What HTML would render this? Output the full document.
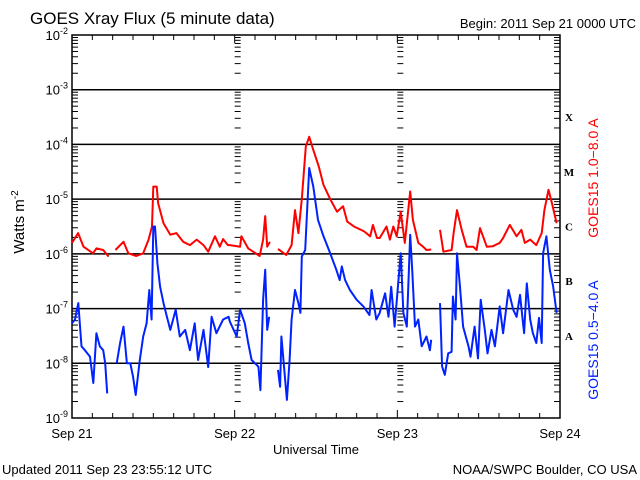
<!DOCTYPE html>
<html><head><meta charset="utf-8"><style>
body{margin:0;background:#fff;}
svg{display:block;font-family:"Liberation Sans",sans-serif;}
</style></head><body>
<svg id="c" width="640" height="480" viewBox="0 0 640 480">
<text x="30" y="24" font-size="17">GOES Xray Flux (5 minute data)</text>
<text x="636" y="28" font-size="13" text-anchor="end">Begin:  2011 Sep 21 0000 UTC</text>
<text x="2" y="474" font-size="13">Updated 2011 Sep 23 23:55:12 UTC</text>
<text x="637" y="474" font-size="13" text-anchor="end">NOAA/SWPC Boulder, CO USA</text>
<text x="316" y="454" font-size="13" text-anchor="middle">Universal Time</text>
<text transform="translate(24,222) rotate(-90)" font-size="15" text-anchor="middle">Watts m<tspan dy="-6" font-size="10">-2</tspan></text>
<text transform="translate(598,178) rotate(-90)" font-size="14" fill="#ff0000" text-anchor="middle">GOES15 1.0−8.0 A</text>
<text transform="translate(598,340) rotate(-90)" font-size="14" fill="#0022ff" text-anchor="middle">GOES15 0.5−4.0 A</text>
<g id="axes"></g>
<g id="series"></g>
</svg>
<script>
const tickDecades = [-2,-3,-4,-5,-6,-7,-8,-9];
const dayLabels = ["Sep 21","Sep 22","Sep 23","Sep 24"];
const classLetters = ["X","M","C","B","A"];
const classLogs = [-3.5,-4.5,-5.5,-6.5,-7.5];
const redHours = [0,0.9,1.7,3.1,3.6,4.6,5.4,null,6.4,7.6,8.3,9.5,10.5,11.3,11.8,12.0,12.5,12.7,13.5,14.5,15.4,16.4,17.4,18.4,19.4,20.1,21.1,21.8,22.3,23.0,
23.3,24.8,25.0,26.0,27.7,28.2,28.5,28.8,29.2,null,30.4,31.6,32.4,32.9,33.4,33.9,34.5,35.0,35.6,36.4,37.1,38.1,39.1,40.0,40.6,41.6,43.1,44.0,44.4,45.0,
45.4,46.4,46.9,47.4,47.9,48.5,49.1,49.9,50.3,51.1,51.8,52.3,53.0,null,54.3,54.8,56.0,56.3,56.8,57.5,58.2,59.2,59.7,60.2,61.2,62.1,63.1,63.6,64.6,65.6,66.3,66.8,67.6,68.5,69.3,69.7,70.3,70.8,71.5];
const redLog = [-5.8,-5.62,-5.87,-5.99,-5.9,-5.93,-6.05,null,-5.93,-5.78,-5.99,-6.04,-5.99,-5.74,-5.5,-4.77,-4.77,-5.07,-5.44,-5.65,-5.62,-5.78,-5.84,-5.74,-5.84,-5.96,-5.68,-5.87,-5.73,-5.84,
-5.84,-5.87,-5.68,-5.9,-6.04,-5.74,-5.31,-5.87,-5.78,null,-5.91,-6.02,-5.84,-5.2,-5.62,-5.0,-4.04,-3.86,-4.1,-4.4,-4.74,-5.0,-5.23,-5.13,-5.41,-5.5,-5.59,-5.68,-5.47,-5.71,
-5.71,-5.5,-5.74,-5.5,-5.68,-5.23,-5.8,-4.86,-5.38,-5.8,-5.87,-5.93,-5.92,null,-5.56,-5.96,-5.93,-5.62,-5.2,-5.56,-5.87,-5.87,-5.93,-5.53,-5.87,-5.86,-5.8,-5.71,-5.47,-5.68,-5.56,-5.8,-5.74,-5.84,-5.62,-5.2,-4.83,-5.07,-5.44];
const blueHours = [0,0.44,0.93,1.4,1.9,2.65,3.15,3.6,4.1,4.6,4.9,5.2,null,6.6,7.1,7.6,8.1,8.6,9.0,9.4,10.0,10.5,11.0,11.4,11.75,12.0,12.25,12.6,13.0,13.5,14.0,14.5,15.3,15.9,16.7,17.4,18.1,18.6,19.4,20.1,20.6,21.3,22.3,23.1,
23.3,24.3,24.8,25.5,26.0,26.5,27.0,27.5,27.8,28.2,28.5,28.8,29.1,null,30.4,30.7,30.9,31.7,32.1,32.4,32.9,33.4,33.7,33.9,34.4,34.6,35.0,35.6,36.3,37.1,38.1,39.0,39.5,39.8,40.3,41.0,42.0,43.0,43.9,44.2,44.9,
45.4,46.2,46.7,47.1,47.6,48.5,48.9,49.4,49.9,50.2,50.6,51.1,51.6,52.3,52.8,53.0,null,54.3,54.6,55.0,55.5,56.0,56.2,56.6,56.8,57.2,57.7,58.5,58.8,59.4,59.9,60.3,60.9,61.3,61.9,62.4,63.1,63.6,64.4,65.1,65.6,66.1,66.7,67.1,67.6,68.0,68.5,68.9,69.3,69.5,70.0,70.5,71.0,71.5];
const blueLog = [-7.27,-7.2,-6.9,-7.69,-7.76,-7.88,-8.36,-7.45,-7.69,-7.76,-8.0,-8.55,null,-8.0,-7.63,-7.33,-8.0,-8.0,-8.24,-8.58,-7.94,-7.51,-7.27,-6.66,-7.2,-5.5,-5.5,-6.17,-6.6,-6.9,-7.15,-7.39,-7.02,-7.51,-7.39,-7.76,-7.27,-7.94,-7.39,-8.07,-7.15,-7.45,-7.2,-7.15,
-7.24,-7.51,-7.02,-7.27,-7.63,-7.94,-8.0,-8.06,-8.49,-6.84,-6.29,-7.39,-7.15,null,-8.12,-8.43,-7.51,-8.67,-7.94,-7.2,-6.66,-6.9,-7.08,-6.05,-5.93,-5.44,-4.43,-4.77,-5.38,-5.68,-5.99,-6.29,-6.48,-6.23,-6.48,-6.66,-6.84,-6.96,-7.12,-6.66,-7.2,
-7.08,-6.72,-7.15,-6.6,-7.33,-5.99,-7.08,-7.33,-5.65,-6.29,-7.33,-7.2,-7.69,-7.51,-7.76,-7.57,null,-6.9,-8.06,-8.21,-7.82,-7.79,-6.78,-7.2,-5.99,-6.54,-7.33,-7.69,-7.88,-7.33,-7.91,-6.84,-7.39,-7.82,-7.39,-7.69,-6.96,-7.45,-6.66,-7.02,-7.15,-6.75,-7.45,-6.54,-7.2,-7.45,-7.63,-7.17,-7.63,-5.99,-5.68,-6.29,-6.6,-7.08];

const L=72,R=560,T=35,B=418;
const xs = h => L + h*(R-L)/72;
const ys = lg => T + (-2-lg)*(B-T)/7;
const NS="http://www.w3.org/2000/svg";
function mk(tag, attrs, parent){const e=document.createElementNS(NS,tag);for(const k in attrs)e.setAttribute(k,attrs[k]);parent.appendChild(e);return e;}
const ax=document.getElementById('axes');
mk('rect',{x:L,y:T,width:R-L,height:B-T,fill:'none',stroke:'#000','stroke-width':1.5},ax);
tickDecades.forEach((d,i)=>{
  const y=ys(d);
  if(d<-2&&d>-9){const g=mk('line',{x1:L,x2:R,y1:y,y2:y,stroke:'#000','stroke-width':1.5},ax);
    
    }
  const t=mk('text',{x:L-4,y:y+5,'font-size':13,'text-anchor':'end'},ax);
  
  
  t.textContent='10';
  const s=mk('tspan',{dy:-6,'font-size':9},t); s.textContent=String(d);
  if(d>-9){for(let m=2;m<=9;m++){const yy=ys(d-1+Math.log10(m));
    [L,R-6,xs(24),xs(48)].forEach(xx=>mk('line',{x1:xx,x2:xx+6,y1:yy,y2:yy,stroke:'#000','stroke-width':1},ax));}}
});
for(let h=0;h<=72;h+=3){const x=xs(h),len=h%24===0?8:5;
  mk('line',{x1:x,x2:x,y1:B,y2:B-len,stroke:'#000'},ax);mk('line',{x1:x,x2:x,y1:T,y2:T+len,stroke:'#000'},ax);}
dayLabels.forEach((lab,i)=>{const t=mk('text',{x:xs(i*24),y:438,'font-size':13,'text-anchor':'middle'},ax);
  
  
  t.textContent=lab;});
classLetters.forEach((c,i)=>{const t=mk('text',{x:569,y:ys(classLogs[i])+4,'font-size':11,'font-weight':'bold','font-family':'Liberation Serif, serif','text-anchor':'middle'},ax);
  
  
  t.textContent=c;});
function path(hs,vs){let d='',pen=false;for(let i=0;i<hs.length;i++){if(hs[i]===null||vs[i]===null){pen=false;continue;}
  d+=(pen?'L':'M')+xs(hs[i]).toFixed(1)+','+ys(vs[i]).toFixed(1);pen=true;}return d;}
const sg=document.getElementById('series');
const pr=mk('path',{d:path(redHours,redLog),fill:'none',stroke:'#ff0000','stroke-width':2,'stroke-linejoin':'round'},sg);


const pb=mk('path',{d:path(blueHours,blueLog),fill:'none',stroke:'#0022ff','stroke-width':2,'stroke-linejoin':'round'},sg);


</script>
</body></html>
